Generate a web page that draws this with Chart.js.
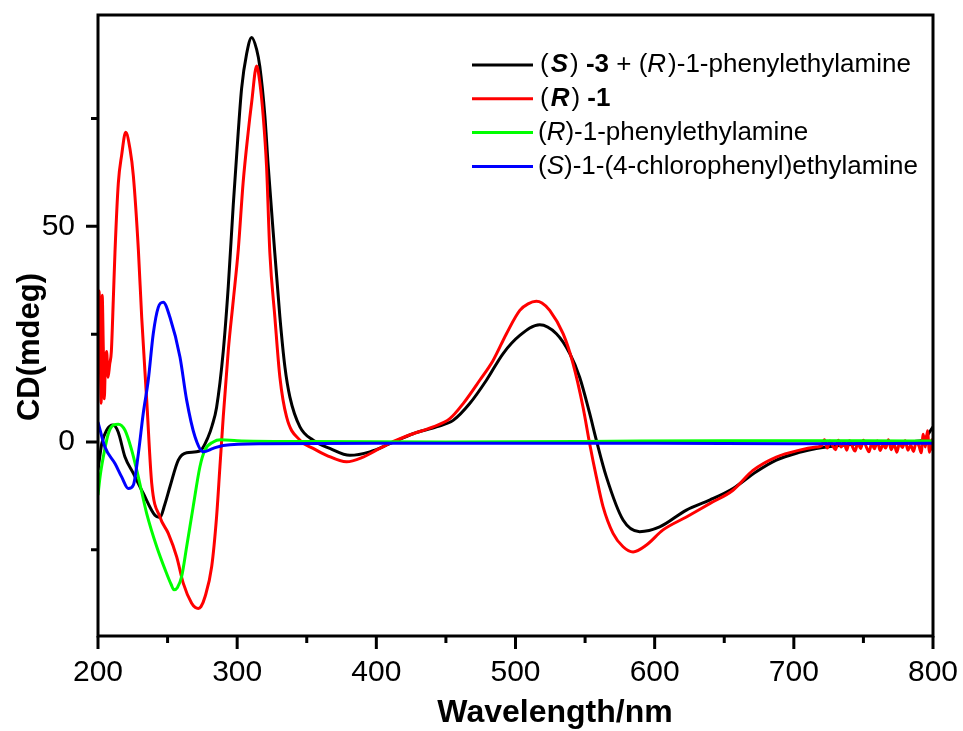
<!DOCTYPE html>
<html>
<head>
<meta charset="utf-8">
<script src="https://cdn.jsdelivr.net/npm/chart.js@4.4.1/dist/chart.umd.min.js"></script>
<style>
  html, body { margin: 0; padding: 0; background: #fff; }
  canvas { display: block; }
</style>
</head>
<body>
<canvas id="cd" width="963" height="731"></canvas>
<script>
// CD spectra, wavelength in nm, signal in mdeg
const blackNm = [200, 202.7, 206.2, 210.8, 214.5, 219.4, 225.4, 232.5, 240.9, 244.5, 248, 251.7, 257.7, 263.7, 273.2, 279.2, 282, 285.2, 290, 293.6, 297.2, 300.8, 303.2, 306.8, 310.4, 314, 316.3, 319.9, 322.3, 325.9, 330.7, 334.3, 337.9, 345.1, 354.6, 366.6, 381, 395.3, 409.7, 426.4, 443.2, 455.2, 467.1, 479.1, 491.1, 503.1, 517.4, 529.4, 539, 546.1, 553.3, 558.1, 565.3, 577.3, 589.2, 603.6, 622.8, 639.5, 656.3, 673, 687.4, 704.1, 716.1, 733, 760, 780, 792.7, 800];
const blackCd = [-6.5, -0.4, 2.7, 3.9, 2.3, -3.5, -7.3, -11.9, -17, -17.5, -14.5, -10.4, -4.2, -2.5, -2.1, 1.2, 3.8, 8, 21, 36, 55, 72, 82, 90, 93.8, 91, 87, 75.6, 64, 48.6, 29, 17.4, 10.4, 3.5, 0.4, -1.5, -3.1, -2.3, -0.4, 1.9, 3.5, 5, 8.9, 14.3, 20.5, 24.7, 27.2, 25.1, 20.5, 15, 6.6, 0.4, -8.1, -18.1, -20.8, -19.7, -15.8, -13.5, -10.8, -6.9, -4.2, -2.4, -1.5, -0.8, -0.2, 0, 0.4, 3.5];

const redNm = [200, 200.8, 201.6, 202.3, 203, 203.8, 204.5, 205.3, 206.2, 207.2, 208.4, 209.6, 211, 212.2, 214.6, 217, 219.9, 223, 225.4, 229, 231.4, 235, 238.6, 244.5, 250.5, 256.5, 261.3, 267.3, 270, 272.1, 274, 276.9, 281.7, 285.2, 287.6, 290, 293.6, 297.2, 300.8, 304.3, 307.9, 310.4, 314, 316.3, 318.7, 321.1, 323.5, 327.1, 330.7, 335.5, 345.1, 354.6, 364.2, 378.6, 390.5, 402.5, 414.5, 426.4, 440.8, 452.8, 462.4, 474.3, 483.9, 493.5, 503.1, 509, 515, 519, 524.6, 534.2, 541.4, 548.5, 553.3, 558.1, 562.9, 570.1, 577.3, 584.5, 594.1, 606, 622.8, 639.5, 656.3, 670.6, 687.4, 704.1, 716.1, 720, 722, 724, 726, 728, 730, 732, 734, 736, 738, 740, 742, 744, 746, 748, 750, 752, 754, 756, 758, 760, 762, 764, 766, 768, 770, 772, 774, 776, 778, 780, 782, 784, 786, 788, 790, 791.5, 793, 794.5, 796, 797.5, 799, 800];
const redCd = [30, 35, 20, 9, 34, 22, 10, 18, 21, 15, 18, 21, 33, 44, 60, 66.5, 71.8, 67.9, 61.7, 44.6, 28.9, 9.7, -9.6, -17.4, -21.2, -26.6, -32.8, -37.4, -38.4, -38.6, -38.2, -35.9, -28.9, -17.4, -5.8, 5.8, 21.2, 32.8, 44.6, 60.2, 71.8, 78.7, 87.2, 83.3, 75.6, 64, 43.8, 28.9, 15, 5.8, 0.4, -1.5, -3.1, -4.6, -3.5, -1.5, 0.4, 1.9, 3.5, 5.4, 8.9, 14.3, 18.9, 25.1, 30.5, 32, 32.6, 32.2, 30.5, 25.1, 18.1, 8.1, -0.4, -8.1, -15, -21.2, -24.3, -25.5, -23.9, -20.4, -17.4, -14.3, -11.2, -6.6, -3.5, -1.9, -1.2, -0.9, 0.5, -1.4, 0.2, -0.9, -1.8, 0.4, -1.2, -0.1, -1.9, 0.3, -1.0, -2.1, -0.2, -1.5, 0.4, -1.1, -2.3, -0.3, -1.6, 0.2, -2.0, -0.6, -1.4, 0.5, -1.8, -0.4, -2.4, -0.2, -1.3, 0.3, -1.9, -0.7, -2.2, 0.1, -1.0, -2.5, 1.8, -1.2, 2.6, -2.4, 0.5, -2.0, 0.6, 0.8];

const greenNm = [200, 201.5, 203.8, 207.4, 211, 214.6, 219.4, 224.2, 227.8, 231, 235, 242.2, 249.3, 252.5, 254.6, 257, 260.1, 263.7, 268.4, 273.2, 276.8, 282.8, 288, 300, 350, 450, 550, 650, 750, 800];
const greenCd = [-12.3, -8, -3.5, 1.9, 3.9, 4.1, 2.7, -1.9, -6.5, -11, -16.6, -24.3, -30.5, -33, -34.3, -33.8, -31.2, -24.3, -15, -5.8, -1.9, 0, 0.5, 0.3, 0.1, 0, 0.1, 0.3, 0.3, 0.2];

const blueNm = [200, 205, 212.2, 217, 221.8, 225.4, 229, 232.5, 236.1, 239.7, 243.3, 246.9, 251.7, 258.9, 263.7, 269.7, 275.7, 282.8, 290, 320, 400, 500, 600, 700, 800];
const blueCd = [4.6, -1.2, -5, -8.1, -10.8, -10, -2.7, 6.6, 14.3, 25.1, 31.2, 32.4, 28.9, 19.7, 9.7, 1.2, -2.3, -1.5, -0.8, -0.4, -0.3, -0.3, -0.3, -0.4, -0.3];

const FONT = '"Liberation Sans", Arial, sans-serif';

function points(xs, ys) {
  return xs.map((v, i) => ({ x: v, y: ys[i] }));
}

function series(xs, ys, color, order) {
  return {
    data: points(xs, ys),
    borderColor: color,
    borderWidth: 3,
    pointRadius: 0,
    fill: false,
    cubicInterpolationMode: 'monotone',
    order: order
  };
}

// scales keep a fixed size and add no edge padding of their own
function fixScale(size) {
  return function (scale) {
    if (scale.isHorizontal()) scale.height = size;
    else scale.width = size;
    scale.paddingLeft = scale.paddingRight = 0;
    scale.paddingTop = scale.paddingBottom = 0;
  };
}

// legend rows: [line color, [text, font style] pieces]
const legendRows = [
  ['#000000', [['(', ''], ['S', 'italic bold'], [') ', ''], ['-3', 'bold'], [' + (', ''], ['R', 'italic'], [')-1-phenylethylamine', '']]],
  ['#ff0000', [['(', ''], ['R', 'italic bold'], [') ', ''], ['-1', 'bold']]],
  ['#00ff00', [['(', ''], ['R', 'italic'], [')-1-phenylethylamine', '']]],
  ['#0000ff', [['(', ''], ['S', 'italic'], [')-1-(4-chlorophenyl)ethylamine', '']]]
];

const decorations = {
  id: 'decorations',
  afterDraw(chart) {
    const { ctx, chartArea: a, scales: { x, y } } = chart;
    ctx.save();
    ctx.strokeStyle = '#000';
    ctx.lineWidth = 3;
    ctx.strokeRect(a.left, a.top, a.right - a.left, a.bottom - a.top);

    // outward tick marks, long on labelled values
    ctx.beginPath();
    x.ticks.forEach(t => {
      const px = x.getPixelForValue(t.value);
      const len = t.value % 100 === 0 ? 13 : 7;
      ctx.moveTo(px, a.bottom);
      ctx.lineTo(px, a.bottom + len);
    });
    y.ticks.forEach(t => {
      const py = y.getPixelForValue(t.value);
      const len = t.value % 50 === 0 ? 12 : 7;
      ctx.moveTo(a.left, py);
      ctx.lineTo(a.left - len, py);
    });
    ctx.stroke();

    // axis titles
    ctx.fillStyle = '#000';
    ctx.textAlign = 'center';
    ctx.textBaseline = 'middle';
    ctx.font = 'bold 32px ' + FONT;
    ctx.fillText('Wavelength/nm', 555, 713);
    ctx.translate(30, 347);
    ctx.rotate(-Math.PI / 2);
    ctx.font = 'bold 31px ' + FONT;
    ctx.fillText('CD(mdeg)', 0, 0);
    ctx.setTransform(1, 0, 0, 1, 0, 0);

    // legend
    ctx.textAlign = 'left';
    legendRows.forEach((row, i) => {
      const ly = 65 + i * 33.8;
      ctx.strokeStyle = row[0];
      ctx.lineWidth = 3;
      ctx.beginPath();
      ctx.moveTo(472, ly);
      ctx.lineTo(533, ly);
      ctx.stroke();
      let tx = i < 2 ? 540 : 538;
      row[1].forEach(([text, style]) => {
        ctx.font = (style ? style + ' ' : '') + '26px ' + FONT;
        ctx.fillText(text, tx, ly);
        tx += ctx.measureText(text).width + (i < 2 && text.length === 1 ? 2 : 0);
      });
    });
    ctx.restore();
  }
};

new Chart(document.getElementById('cd'), {
  type: 'line',
  data: {
    datasets: [
      series(blackNm, blackCd, '#000000', 4),
      series(redNm, redCd, '#ff0000', 3),
      series(greenNm, greenCd, '#00ff00', 2),
      series(blueNm, blueCd, '#0000ff', 1)
    ]
  },
  options: {
    responsive: false,
    devicePixelRatio: 1,
    animation: false,
    layout: { padding: { left: 0, top: 15, right: 30, bottom: 0 } },
    plugins: { legend: { display: false }, tooltip: { enabled: false } },
    scales: {
      x: {
        type: 'linear',
        min: 200,
        max: 800,
        grid: { display: false },
        border: { display: false },
        afterFit: fixScale(95),
        ticks: {
          stepSize: 50,
          autoSkip: false,
          maxRotation: 0,
          includeBounds: false,
          padding: 11,
          color: '#000',
          font: { family: FONT, size: 30 },
          callback: v => (v % 100 === 0 ? v : '')
        }
      },
      y: {
        min: -45,
        max: 99,
        grid: { display: false },
        border: { display: false },
        afterFit: fixScale(98),
        ticks: {
          stepSize: 25,
          autoSkip: false,
          includeBounds: false,
          padding: 15,
          color: '#000',
          font: { family: FONT, size: 30 },
          callback: v => (v % 50 === 0 ? v : '')
        }
      }
    }
  },
  plugins: [decorations]
});
</script>
</body>
</html>
